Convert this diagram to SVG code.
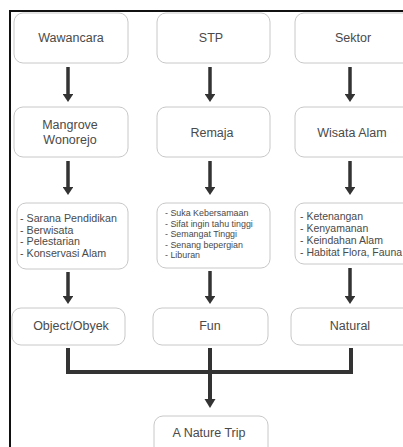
<svg xmlns="http://www.w3.org/2000/svg" width="403" height="447" viewBox="0 0 403 447">
<style>
.box{fill:#fff;stroke:#c8c8c8;stroke-width:1}
.t{font-family:"Liberation Sans",Arial,sans-serif;font-size:12.5px;fill:#4a4a4a;text-anchor:middle}
.l{font-family:"Liberation Sans",Arial,sans-serif;font-size:10.7px;fill:#4a4a4a}
.r{font-family:"Liberation Sans",Arial,sans-serif;font-size:10.5px;fill:#4a4a4a}
.s{font-family:"Liberation Sans",Arial,sans-serif;font-size:8.9px;fill:#4a4a4a}
.c{stroke:#333;stroke-width:3.5;fill:none}
.j{stroke:#333;stroke-width:4;fill:none}
</style>
<defs>
<marker id="ah" markerWidth="3" markerHeight="3" refX="0" refY="1.5" orient="auto" markerUnits="strokeWidth">
<path d="M0,0 L2.3,1.5 L0,3 Z" fill="#333"/>
</marker>
</defs>
<rect x="0" y="0" width="403" height="447" fill="#fff"/>
<g id="frame">
<line x1="9" y1="11" x2="403" y2="11" stroke="#111" stroke-width="2"/>
<line x1="10" y1="10" x2="10" y2="447" stroke="#111" stroke-width="2"/>
</g>
<g id="n-wawancara"><rect class="box" x="14" y="13" width="114" height="50" rx="9"/><text class="t" x="71" y="42">Wawancara</text></g>
<g id="n-stp"><rect class="box" x="157" y="13" width="113" height="50" rx="9"/><text class="t" x="211" y="42">STP</text></g>
<g id="n-sektor"><rect class="box" x="295" y="13" width="120" height="50" rx="9"/><text class="t" x="353" y="42">Sektor</text></g>
<g id="n-mangrove"><rect class="box" x="14" y="107" width="114" height="50" rx="9"/><text class="t" x="70" y="129">Mangrove</text><text class="t" x="70" y="144">Wonorejo</text></g>
<g id="n-remaja"><rect class="box" x="157" y="107" width="113" height="50" rx="9"/><text class="t" x="212" y="137">Remaja</text></g>
<g id="n-wisata"><rect class="box" x="295" y="107" width="120" height="50" rx="9"/><text class="t" x="352" y="137">Wisata Alam</text></g>
<g id="n-list1"><rect class="box" x="17" y="203" width="111" height="66" rx="9"/>
<text class="l" x="20" y="222">- Sarana Pendidikan</text>
<text class="l" x="20" y="233.7">- Berwisata</text>
<text class="l" x="20" y="245.4">- Pelestarian</text>
<text class="l" x="20" y="257.1">- Konservasi Alam</text></g>
<g id="n-list2"><rect class="box" x="157" y="203" width="113" height="65" rx="9"/>
<text class="s" x="165" y="216">- Suka Kebersamaan</text>
<text class="s" x="165" y="226.5">- Sifat ingin tahu tinggi</text>
<text class="s" x="165" y="237">- Semangat Tinggi</text>
<text class="s" x="165" y="247.5">- Senang bepergian</text>
<text class="s" x="165" y="258">- Liburan</text></g>
<g id="n-list3"><rect class="box" x="295" y="203" width="120" height="61" rx="9"/>
<text class="r" x="300" y="220">- Ketenangan</text>
<text class="r" x="300" y="232">- Kenyamanan</text>
<text class="r" x="300" y="244">- Keindahan Alam</text>
<text class="r" x="300" y="256">- Habitat Flora, Fauna</text></g>
<g id="n-object"><rect class="box" x="12" y="308" width="113" height="37" rx="9"/><text class="t" x="71" y="330">Object/Obyek</text></g>
<g id="n-fun"><rect class="box" x="153" y="308" width="115" height="37" rx="9"/><text class="t" x="210" y="330">Fun</text></g>
<g id="n-natural"><rect class="box" x="291" y="308" width="124" height="37" rx="9"/><text class="t" x="350" y="330">Natural</text></g>
<g id="n-trip"><rect class="box" x="154" y="416" width="114" height="45" rx="9"/><text class="t" x="209" y="437">A Nature Trip</text></g>
<g id="connectors">
<line class="c" x1="68" y1="67" x2="68" y2="94" marker-end="url(#ah)"/>
<line class="c" x1="210" y1="67" x2="210" y2="94" marker-end="url(#ah)"/>
<line class="c" x1="350" y1="67" x2="350" y2="94" marker-end="url(#ah)"/>
<line class="c" x1="68" y1="161" x2="68" y2="187" marker-end="url(#ah)"/>
<line class="c" x1="210" y1="161" x2="210" y2="187" marker-end="url(#ah)"/>
<line class="c" x1="350" y1="161" x2="350" y2="187" marker-end="url(#ah)"/>
<line class="c" x1="68" y1="272" x2="68" y2="296" marker-end="url(#ah)"/>
<line class="c" x1="210" y1="271" x2="210" y2="296" marker-end="url(#ah)"/>
<line class="c" x1="350" y1="268" x2="350" y2="296" marker-end="url(#ah)"/>
<path class="j" d="M68,348 V372 H351 V348"/>
<line class="j" x1="210" y1="348" x2="210" y2="400"/>
<path d="M204.5,399 L215.5,399 L210,408 Z" fill="#333"/>
</g>
</svg>
